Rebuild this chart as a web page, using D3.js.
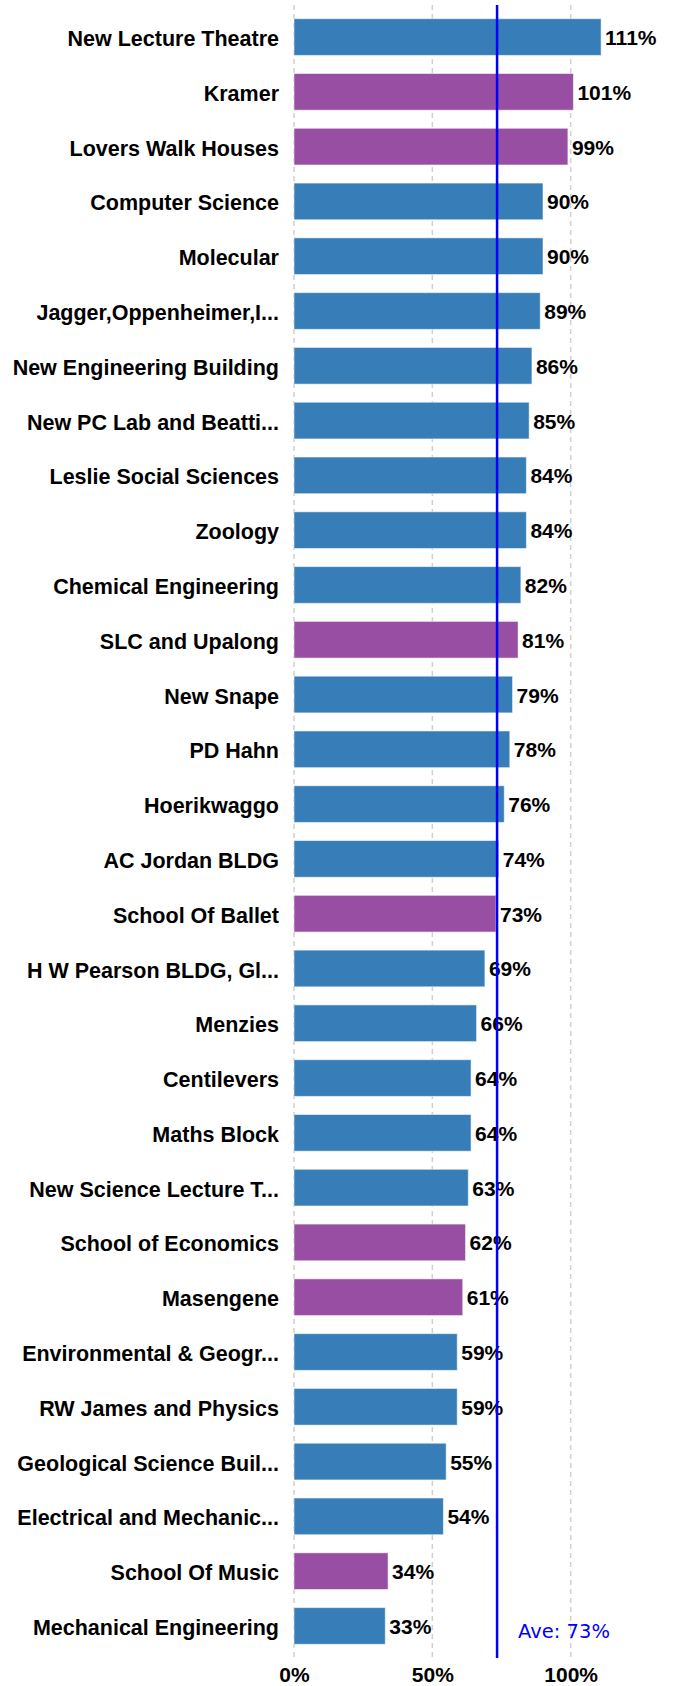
<!DOCTYPE html>
<html>
<head>
<meta charset="utf-8">
<script src="https://cdn.jsdelivr.net/npm/d3@7"></script>
<style>
  body { margin: 0; background: #fff; }
  .lbl { font-family: "Liberation Sans", Arial, sans-serif; font-weight: bold; font-size: 21px; fill: #000; }
  .cat { font-size: 21.5px; }
</style>
</head>
<body>
<div id="chart"></div>
<script>
// building names, utilisation and type (1 = purple group)
var buildings = ["New Lecture Theatre", "Kramer", "Lovers Walk Houses", "Computer Science", "Molecular",
  "Jagger,Oppenheimer,I...", "New Engineering Building", "New PC Lab and Beatti...", "Leslie Social Sciences",
  "Zoology", "Chemical Engineering", "SLC and Upalong", "New Snape", "PD Hahn", "Hoerikwaggo",
  "AC Jordan BLDG", "School Of Ballet", "H W Pearson BLDG, Gl...", "Menzies", "Centilevers", "Maths Block",
  "New Science Lecture T...", "School of Economics", "Masengene", "Environmental & Geogr...",
  "RW James and Physics", "Geological Science Buil...", "Electrical and Mechanic...", "School Of Music",
  "Mechanical Engineering"];
var usage = [111, 101, 99, 90, 90, 89, 86, 85, 84, 84, 82, 81, 79, 78, 76, 74, 73, 69, 66, 64, 64, 63, 62, 61, 59, 59, 55, 54, 34, 33];
var group = [0, 1, 1, 0, 0, 0, 0, 0, 0, 0, 0, 1, 0, 0, 0, 0, 1, 0, 0, 0, 0, 0, 1, 1, 0, 0, 0, 0, 1, 0];
var ticks = [0, 50, 100];
var average = 73.4;

var data = buildings.map(function(b, i) { return {name: b, value: usage[i], group: group[i]}; });

var margin = {top: 5, right: 47, bottom: 28, left: 294},
    width = 673 - margin.left - margin.right,
    height = 1686 - margin.top - margin.bottom;

var svg = d3.select("#chart").append("svg")
    .attr("width", width + margin.left + margin.right)
    .attr("height", height + margin.top + margin.bottom)
  .append("g")
    .attr("transform", "translate(" + margin.left + "," + margin.top + ")");

var x = d3.scaleLinear().domain([0, 120]).range([0, width]);
var y = d3.scaleBand().domain(buildings).range([0, height]).paddingInner(0.33).paddingOuter(0.25);
var color = d3.scaleOrdinal().domain([0, 1]).range(["#377eb8", "#984ea3"]);

// dashed grid
svg.append("g")
  .selectAll("line")
  .data(ticks)
  .join("line")
    .attr("x1", d => x(d)).attr("x2", d => x(d))
    .attr("y1", 0).attr("y2", height)
    .attr("stroke", "#d0d0d0")
    .attr("stroke-width", 1.5)
    .attr("stroke-dasharray", "5,4");

// x axis labels
var xAxis = svg.append("g")
  .attr("transform", "translate(0," + height + ")")
  .call(d3.axisBottom(x).tickValues(ticks).tickSize(0).tickPadding(9).tickFormat(d => d + "%"));
xAxis.select(".domain").remove();
xAxis.selectAll("text").attr("class", "lbl").attr("font-size", null).attr("font-family", null);

// category labels
var yAxis = svg.append("g")
  .call(d3.axisLeft(y).tickSize(0).tickPadding(15));
yAxis.select(".domain").remove();
yAxis.selectAll("text").attr("class", "lbl cat").attr("font-size", null).attr("font-family", null).attr("dy", "0.42em");

// bars
svg.append("g")
  .selectAll("rect")
  .data(data)
  .join("rect")
    .attr("x", 0)
    .attr("y", d => y(d.name))
    .attr("width", d => x(d.value))
    .attr("height", y.bandwidth())
    .attr("fill", d => color(d.group))
    .attr("stroke", "rgba(255,255,255,0.55)")
    .attr("stroke-width", 1);

// value labels
svg.append("g")
  .selectAll("text")
  .data(data)
  .join("text")
    .attr("class", "lbl")
    .attr("x", d => x(d.value) + 4)
    .attr("y", d => y(d.name) + y.bandwidth() / 2)
    .attr("dy", "0.38em")
    .text(d => d.value + "%");

// average line
svg.append("line")
  .attr("x1", x(average)).attr("x2", x(average))
  .attr("y1", 0).attr("y2", height)
  .attr("stroke", "#0000ff")
  .attr("stroke-width", 2.5);

svg.append("text")
  .attr("x", x(average) + 21)
  .attr("y", height - 20)
  .style("font-family", "'DejaVu Sans', Verdana, sans-serif")
  .style("font-size", "19.5px")
  .style("fill", "#0000ff")
  .text("Ave: " + Math.round(average) + "%");
</script>
</body>
</html>
